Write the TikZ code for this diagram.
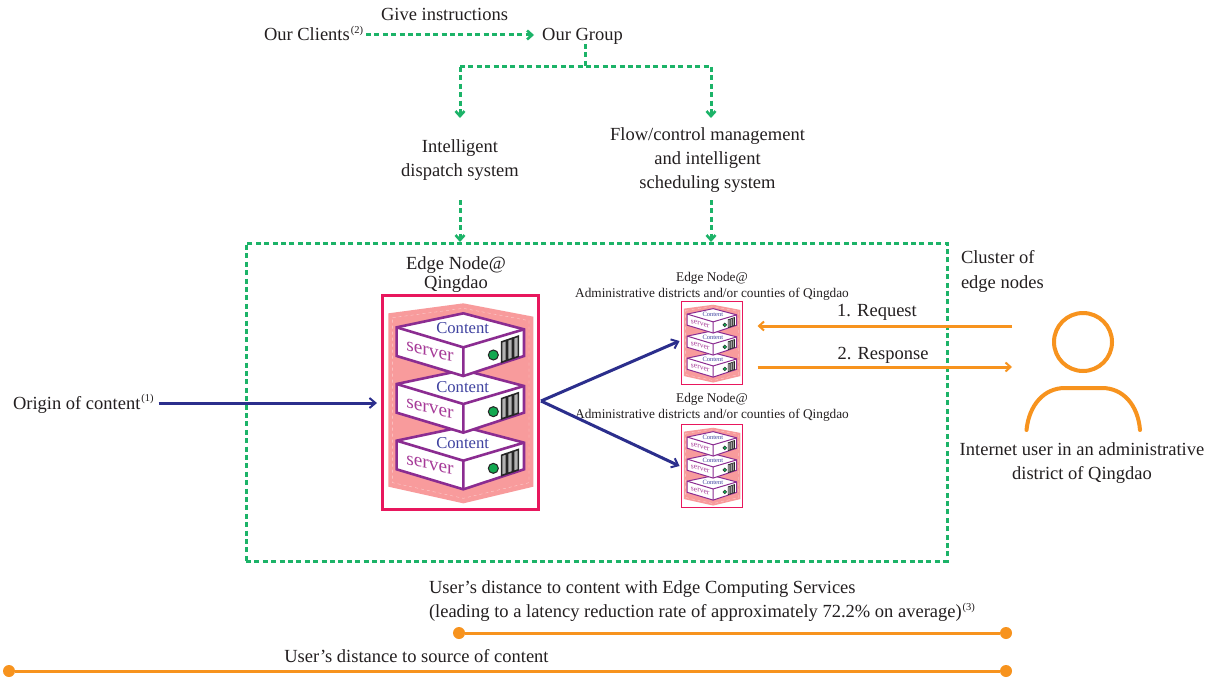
\documentclass[tikz,border=0pt]{standalone}
\usepackage{fontspec}
\setmainfont{Liberation Serif}
\usetikzlibrary{arrows.meta}
\definecolor{ink}{HTML}{231F20}
\definecolor{gr}{HTML}{1CB368}
\definecolor{org}{HTML}{F7931E}
\definecolor{nav}{HTML}{2B2E8C}
\definecolor{sal}{HTML}{F89B9C}
\definecolor{fram}{HTML}{E8175D}
\definecolor{pur}{HTML}{8B2C91}
\definecolor{cblue}{HTML}{3F42A0}
\definecolor{spur}{HTML}{A63A98}
\definecolor{led}{HTML}{12A850}
\newcommand{\supmark}[1]{\hspace{1pt}\raisebox{.42em}{\fontsize{10.5}{10.5}\selectfont(#1)}}
\tikzset{
  txt/.style={inner sep=0pt,outer sep=0pt,text=ink,font=\fontsize{18.5}{24}\selectfont,align=center},
  smalltxt/.style={inner sep=0pt,outer sep=0pt,text=ink,font=\fontsize{13.3}{16}\selectfont,align=center},
  gdash/.style={draw=gr,line width=3pt,dash pattern=on 5pt off 3.4pt},
  garrow/.style={gdash,-{Straight Barb[length=5pt,width=9pt,line width=2.6pt]}},
  narrow/.style={draw=nav,line width=3pt,-{Straight Barb[length=6pt,width=10pt,line width=2pt]}},
  oarrow/.style={draw=org,line width=3pt,-{Straight Barb[length=5pt,width=9pt,line width=2pt]}},
  oline/.style={draw=org,line width=3pt},
  odot/.style={circle,fill=org,inner sep=0pt,outer sep=0pt,minimum size=12pt},
  framebox/.style={draw=fram,fill=white,inner sep=0pt,outer sep=0pt,rectangle},
}
\newcommand{\serverstack}[5]{%
  % name, left, top, scale, purple width
  \begin{scope}[shift={(#2,#3)},scale=#4/3,shift={(-36,-135)},transform shape]
    \fill[sal] (55,190)--(280,160)--(490,200)--(490,710)--(280,760)--(55,710)--cycle;
    \draw[white,opacity=.55,line width=.35pt,dashed] (68,203)--(280,175)--(477,212)--(477,698)--(280,745)--(68,698)--cycle;
    \foreach \off/\k/\cy in {340/c/238,170/b/240,0/a/234}{
      \begin{scope}[yshift=-\off pt]
        \filldraw[draw=pur,fill=white,line width=#5,line join=miter]
          (80,232)--(280,190)--(462,238)--(462,318)--(280,378)--(80,318)--cycle;
        \draw[pur,line width=#5] (80,232)--(280,292)--(462,238) (280,292)--(280,378);
        \foreach \bx in {395,413,431}{
          \filldraw[draw=black!85,fill=black!30,line width=#5*.6]
            (\bx,276-\bx*.34+134)--(\bx+14,271-\bx*.34+134)--(\bx+14,332-\bx*.34+134)--(\bx,337-\bx*.34+134)--cycle;
        }
        \filldraw[draw=black!85,fill=led,line width=#5*.4] (370,315) circle (15);
        \node[inner sep=0pt,text=cblue,font=\fontsize{50}{50}\selectfont] (#1\k c) at (278,\cy) {Content};
        \node[inner sep=0pt,text=spur,cm={1,-.24,0,1,(0,0)},font=\fontsize{58}{58}\selectfont] (#1\k s) at (180,306) {server};
      \end{scope}
    }
  \end{scope}
}
\begin{document}
\begin{tikzpicture}[x=1pt,y=-1pt]
\useasboundingbox (0,0) rectangle (1212,677);
\fill[white] (0,0) rectangle (1212,677);

% top texts
\node[txt] (give) at (444.5,14) {Give instructions};
\node[txt,anchor=west] (clients) at (264,33.5) {Our Clients\supmark{2}};
\node[txt] (group) at (582.5,36) {Our Group};
\node[txt] (dispatch) at (460,160) {Intelligent\\dispatch system};
\node[txt] (flow) at (707.5,160) {Flow/control management\\and intelligent\\scheduling system};

% green connectors
\coordinate (bus) at (585,67);
\coordinate (busL) at (460,67);
\coordinate (busR) at (711,67);
\coordinate (dropL) at (460,118);
\coordinate (dropR) at (711,118);
\coordinate (clientsEnd) at (534,35);
\draw[garrow] (366,35) -- (clientsEnd);
\draw[gdash] (group.south-|bus) -- (bus);
\draw[gdash] (busL) -- (busR);
\draw[garrow] (busL) -- (dropL);
\draw[garrow] (busR) -- (dropR);

% cluster
\node[draw=gr,line width=3pt,dash pattern=on 5pt off 3.4pt,inner sep=0pt,outer sep=0pt,minimum width=701pt,minimum height=318pt,anchor=north west] (cluster) at (246,243) {};
\coordinate (topL) at (460,200);
\coordinate (topR) at (711,200);
\draw[garrow] (topL) -- (460,242);
\draw[garrow] (topR) -- (711,242);

\node[txt,font=\fontsize{18.5}{19}\selectfont] (qdlabel) at (456,274.5) {Edge Node@\\Qingdao};
\node[smalltxt] (d1label) at (712,286) {Edge Node@\\Administrative districts and/or counties of Qingdao};
\node[smalltxt] (d2label) at (712,407) {Edge Node@\\Administrative districts and/or counties of Qingdao};

% stacks
\node[framebox,line width=3pt,minimum width=156pt,minimum height=214pt,anchor=north west] (big) at (382,295) {};
\serverstack{bg}{382}{295}{1}{2.6pt}
\node[framebox,line width=1.2pt,minimum width=61pt,minimum height=83pt,anchor=north west] (s1) at (681.5,301.5) {};
\serverstack{sa}{681.5}{301.5}{.389}{1pt}
\node[framebox,line width=1.2pt,minimum width=61pt,minimum height=83pt,anchor=north west] (s2) at (681.5,424.5) {};
\serverstack{sb}{681.5}{424.5}{.389}{1pt}

% origin
\node[txt,anchor=west] (origin) at (13,404) {Origin of content\supmark{1}};
\draw[narrow] ([xshift=5pt]origin.east|-0,403) -- ([xshift=-5pt]big.west|-0,403);
\draw[narrow] ([xshift=3pt,yshift=1pt]big.east) -- ([xshift=-2pt,yshift=2pt]s1.west);
\draw[narrow] ([xshift=3pt,yshift=1pt]big.east) -- ([xshift=-2pt,yshift=0pt]s2.west);

% user
\node[draw=org,line width=4pt,circle,inner sep=0pt,outer sep=0pt,minimum size=58pt] (head) at (1083,342) {};
\node[txt] (user) at (1082,463) {Internet user in an administrative\\district of Qingdao};
\coordinate (shL) at (1026.5,430);
\coordinate (shR) at (1140,430);
\draw[org,line width=4pt,line cap=round] (shL) .. controls (1029,405) and (1044,388) .. (1065,388) -- (1102,388) .. controls (1123,388) and (1138,405) .. (shR);
\coordinate (uA) at (1012,326);
\coordinate (uB) at (1012,367);
\draw[oarrow] (uA) -- ([xshift=15pt]s1.east|-uA);
\draw[oarrow] ([xshift=15pt]s1.east|-uB) -- (uB);
\node[txt] (req) at (877,312) {1. Request};
\node[txt] (resp) at (883,355) {2. Response};
\node[txt,anchor=north west,align=left,font=\fontsize{18.5}{25}\selectfont] (clab) at (961,250) {Cluster of\\edge nodes};

% bottom
\node[txt,anchor=north west,align=left] (dist1) at (429,581) {User’s distance to content with Edge Computing Services\\(leading to a latency reduction rate of approximately 72.2\% on average)\supmark{3}};
\node[odot] (a1) at (459,633) {};
\node[odot] (a2) at (1006,633) {};
\draw[oline] (a1) -- (a2);
\node[txt] (dist2) at (416.5,656) {User’s distance to source of content};
\node[odot] (b1) at (9,671) {};
\node[odot] (b2) at (1006,671) {};
\draw[oline] (b1) -- (b2);
\end{tikzpicture}
\end{document}
